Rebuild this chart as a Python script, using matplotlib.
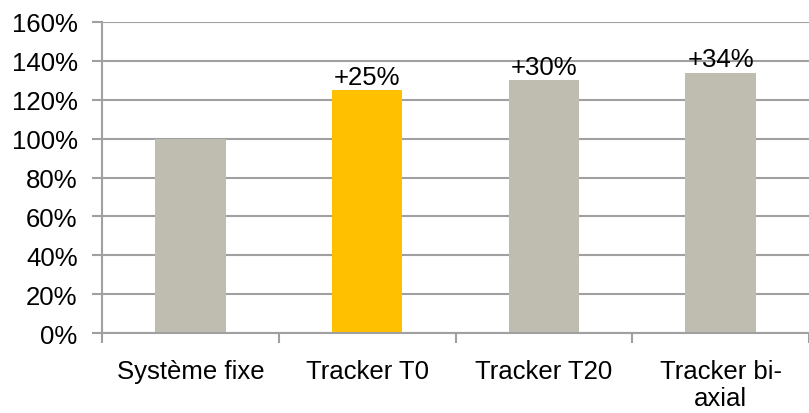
import numpy as np
import matplotlib.pyplot as plt
from matplotlib.ticker import FuncFormatter, FixedLocator

categories = ['Système fixe', 'Tracker T0', 'Tracker T20', 'Tracker bi-\naxial']
values = [100, 125, 130, 134]
gains = ['', '+25%', '+30%', '+34%']
colors = ['#BFBDB0', '#FFC000', '#BFBDB0', '#BFBDB0']

plt.rcParams['font.family'] = ['Liberation Sans', 'DejaVu Sans']
plt.rcParams['font.size'] = 18.5

fig = plt.figure(figsize=(8.09, 4.14), dpi=100)
ax = fig.add_axes([102 / 809, 1 - 334 / 414, 1 - 102 / 809, (334 - 23) / 414])

x = np.arange(len(categories))
bars = ax.bar(x, values, width=0.4, color=colors, zorder=2)
for bar, txt in zip(bars, gains):
    if txt:
        ax.annotate(txt, (bar.get_x() + bar.get_width() / 2, bar.get_height()),
                    xytext=(0, 1), textcoords='offset points',
                    ha='center', va='bottom', zorder=3)

ax.set_ylim(0, 160)
ax.set_xlim(-0.5, len(categories) - 0.5)
ax.set_yticks(range(0, 161, 20))
ax.yaxis.set_major_formatter(FuncFormatter(lambda v, p: f'{v:.0f}%'))
ax.grid(axis='y', color='#A0A0A0', linewidth=1.5, zorder=1)

ax.set_xticks(x)
ax.set_xticklabels(categories, linespacing=1.13)
ax.xaxis.set_minor_locator(FixedLocator(np.arange(-0.5, len(categories), 1.0)))
ax.tick_params(axis='x', which='major', length=0, pad=19)
ax.tick_params(axis='x', which='minor', length=7, width=1.5, color='#A0A0A0')
ax.tick_params(axis='y', length=7, width=1.5, color='#A0A0A0', pad=10.5)

for side in ['top', 'right']:
    ax.spines[side].set_visible(False)
for side in ['left', 'bottom']:
    ax.spines[side].set_color('#A0A0A0')
    ax.spines[side].set_linewidth(1.5)

fig.savefig('out.png', dpi=100)
